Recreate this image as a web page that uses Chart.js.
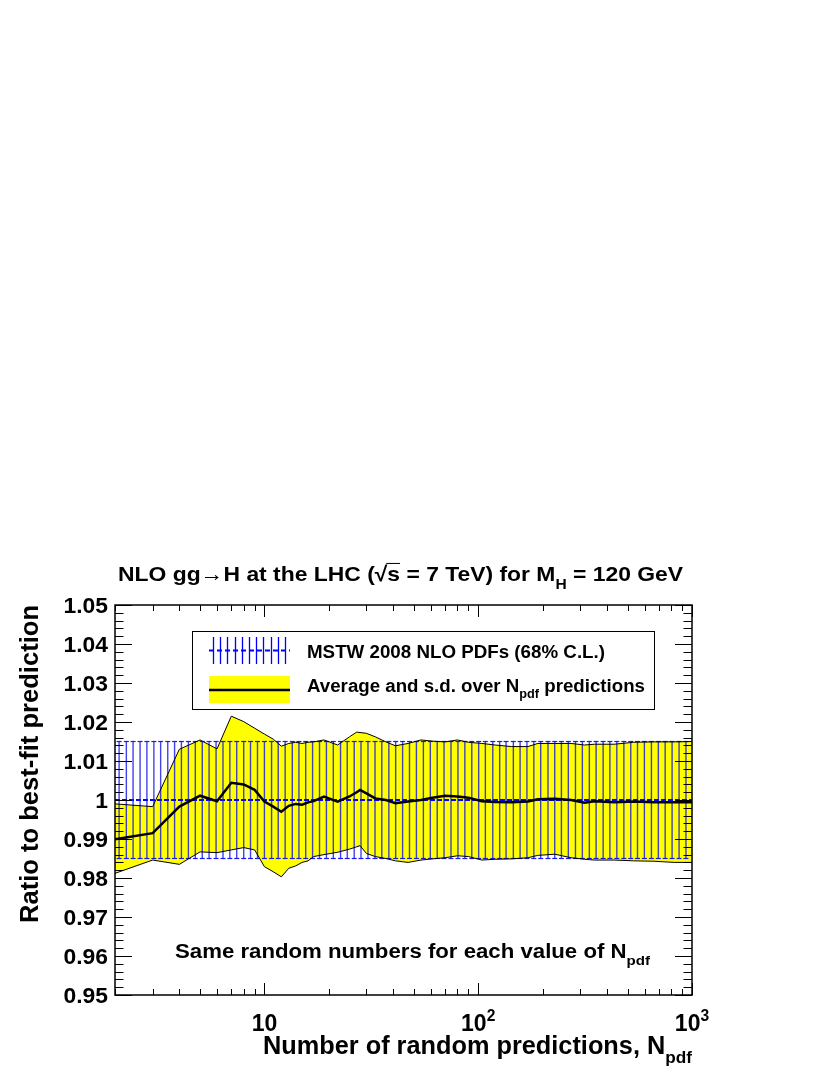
<!DOCTYPE html>
<html>
<head>
<meta charset="utf-8">
<script src="https://cdn.jsdelivr.net/npm/chart.js@4.4.0/dist/chart.umd.min.js"></script>
<style>
  html, body { margin: 0; padding: 0; background: #fff; }
  #wrap { width: 830px; height: 1075px; }
</style>
</head>
<body>
<div id="wrap"><canvas id="myChart" width="830" height="1075"></canvas></div>
<script>
const nPdf = [2, 3, 4, 5, 6, 7, 8, 9, 10, 11, 12, 13, 14, 15, 16, 17, 19, 22, 25, 27, 28, 30, 33, 37, 41,
  47, 54, 61, 70, 80, 90, 104, 120, 143, 171, 190, 228, 272, 314, 350, 433, 534, 664, 826, 1000];
const avgValues = [0.9899, 0.9915, 0.9983, 1.0011, 0.9997, 1.0044, 1.0040, 1.0026, 0.9996, 0.9983, 0.9970,
  0.9985, 0.9990, 0.9988, 0.9994, 0.9997, 1.0009, 0.9996, 1.0009, 1.0020, 1.0026, 1.0017, 1.0004, 1.0000,
  0.9992, 0.9996, 1.0000, 1.0006, 1.0011, 1.0009, 1.0006, 0.9997, 0.9995, 0.9994, 0.9996, 1.0002, 1.0003,
  1.0000, 0.9993, 0.9997, 0.9994, 0.9996, 0.9994, 0.9994, 0.9994];
const upperValues = [0.9990, 0.9983, 1.0130, 1.0154, 1.0131, 1.0215, 1.0201, 1.0184, 1.0169, 1.0156, 1.0138,
  1.0145, 1.0148, 1.0145, 1.0148, 1.0149, 1.0154, 1.0141, 1.0162, 1.0174, 1.0173, 1.0171, 1.0162, 1.0149,
  1.0139, 1.0145, 1.0154, 1.0151, 1.0149, 1.0154, 1.0148, 1.0145, 1.0141, 1.0137, 1.0137, 1.0145, 1.0145,
  1.0145, 1.0141, 1.0143, 1.0143, 1.0148, 1.0149, 1.0149, 1.0150];
const lowerValues = [0.9812, 0.9846, 0.9835, 0.9867, 0.9865, 0.9872, 0.9878, 0.9872, 0.9829, 0.9816, 0.9803,
  0.9825, 0.9831, 0.9840, 0.9844, 0.9855, 0.9860, 0.9866, 0.9874, 0.9880, 0.9883, 0.9863, 0.9855, 0.9850,
  0.9844, 0.9840, 0.9846, 0.9849, 0.9852, 0.9857, 0.9855, 0.9846, 0.9848, 0.9849, 0.9852, 0.9858, 0.9861,
  0.9852, 0.9848, 0.9846, 0.9846, 0.9844, 0.9843, 0.9840, 0.9840];

// MSTW 2008 NLO 68% C.L. error bars
const mstwX = [2.09, 2.26, 2.43, 2.62, 2.82, 3.04, 3.27, 3.53, 3.80, 4.09, 4.41, 4.75, 5.12, 5.51, 5.94,
  6.40, 6.89, 7.42, 8.00, 8.61, 9.28, 10.0, 10.8, 11.6, 12.5, 13.5, 14.5, 15.6, 16.8, 18.1, 19.5, 21.0,
  22.7, 24.4, 26.3, 28.3, 30.5, 32.9, 35.4, 38.2, 41.1, 44.3, 47.7, 51.4, 55.4, 59.7, 64.3, 69.2, 74.6,
  80.4, 86.6, 93.3, 100.5, 108, 117, 126, 135, 146, 157, 169, 182, 196, 212, 228, 245, 264, 285, 307,
  331, 356, 384, 413, 445, 480, 517, 556, 599, 646, 696, 749, 807, 870, 937];
const mstwCentral = 1.0;
const mstwLow = 0.985;
const mstwHigh = 1.015;

// axis ticks
const yTicks = [0.95, 0.96, 0.97, 0.98, 0.99, 1.0, 1.01, 1.02, 1.03, 1.04, 1.05];
const yTickLabels = ['0.95', '0.96', '0.97', '0.98', '0.99', '1', '1.01', '1.02', '1.03', '1.04', '1.05'];
const xMajorTicks = [10, 100, 1000];
const xMinorTicks = [2, 3, 4, 5, 6, 7, 8, 9, 20, 30, 40, 50, 60, 70, 80, 90, 200, 300, 400, 500, 600, 700, 800, 900];
const xTickLabels = [['10', ''], ['10', '2'], ['10', '3']];

const FONT = '"Liberation Sans", Arial, sans-serif';
function font(size) { return 'bold ' + size + 'px ' + FONT; }

function partSize(k, size) { return (k === 'sub' || k === 'sup') ? size * 0.68 : size; }

function richWidth(ctx, parts, size) {
  let w = 0;
  for (const [t, k] of parts) {
    ctx.font = font(partSize(k, size));
    w += ctx.measureText(t).width;
  }
  return w;
}

// draw text with sub/superscripts, left/center/right aligned, optionally fitted to a width
function drawRich(ctx, parts, x, y, size, opt) {
  opt = opt || {};
  const nat = richWidth(ctx, parts, size);
  const sx = opt.width ? opt.width / nat : (opt.sx || 1);
  const total = nat * sx;
  let x0 = x;
  if (opt.align === 'center') x0 = x - total / 2;
  if (opt.align === 'right') x0 = x - total;
  ctx.save();
  ctx.translate(x0, y);
  ctx.scale(sx, 1);
  ctx.fillStyle = '#000';
  ctx.textAlign = 'left';
  ctx.textBaseline = 'alphabetic';
  let cx = 0;
  for (const [t, k] of parts) {
    const s = partSize(k, size);
    ctx.font = font(s);
    const dy = k === 'sub' ? size * 0.36 : (k === 'sup' ? -size * 0.45 : 0);
    ctx.fillText(t, cx, dy);
    const w = ctx.measureText(t).width;
    if (k === 'ovl') ctx.fillRect(cx - 1, -size * 0.86, w + 1, 1);
    cx += w;
  }
  ctx.restore();
}

const decorations = {
  id: 'decorations',
  afterDraw(chart) {
    const { ctx, chartArea: a, scales: { x, y } } = chart;
    ctx.save();

    // frame
    ctx.strokeStyle = '#000';
    ctx.lineWidth = 1.5;
    ctx.strokeRect(a.left, a.top, a.right - a.left, a.bottom - a.top);

    // y ticks, both sides
    ctx.lineWidth = 1;
    ctx.beginPath();
    for (let i = 0; i <= 50; i++) {
      const py = Math.round(y.getPixelForValue(0.95 + i * 0.002)) + 0.5;
      const len = i % 5 === 0 ? 17 : 8.5;
      ctx.moveTo(a.left, py); ctx.lineTo(a.left + len, py);
      ctx.moveTo(a.right, py); ctx.lineTo(a.right - len, py);
    }
    // x ticks, both sides
    xMinorTicks.concat(xMajorTicks).forEach(v => {
      const px = Math.round(x.getPixelForValue(v)) + 0.5;
      const len = xMajorTicks.includes(v) ? 12 : 6;
      ctx.moveTo(px, a.bottom); ctx.lineTo(px, a.bottom - len);
      ctx.moveTo(px, a.top); ctx.lineTo(px, a.top + len);
    });
    ctx.stroke();

    // tick labels
    yTicks.forEach((v, i) => {
      drawRich(ctx, [[yTickLabels[i], 'n']], 108, y.getPixelForValue(v) + 8, 22, { sx: 1.04, align: 'right' });
    });
    xMajorTicks.forEach((v, i) => {
      const [base, exp] = xTickLabels[i];
      const parts = exp ? [[base, 'n'], [exp, 'sup']] : [[base, 'n']];
      drawRich(ctx, parts, x.getPixelForValue(v), 1031, 23, { sx: 1.0, align: 'center' });
    });

    // title
    drawRich(ctx, [['NLO gg\u2192H at the LHC (\u221A', 'n'], ['s', 'ovl'], [' = 7 TeV) for M', 'n'],
      ['H', 'sub'], [' = 120 GeV', 'n']], 118, 581, 21, { width: 565 });

    // axis titles
    drawRich(ctx, [['Number of random predictions, N', 'n'], ['pdf', 'sub']], 263, 1054, 25, { width: 429 });
    ctx.save();
    ctx.translate(38, 605);
    ctx.rotate(-Math.PI / 2);
    drawRich(ctx, [['Ratio to best-fit prediction', 'n']], 0, 0, 25, { width: 318, align: 'right' });
    ctx.restore();

    // annotation
    drawRich(ctx, [['Same random numbers for each value of N', 'n'], ['pdf', 'sub']], 175, 958, 20, { width: 475 });

    // legend box
    ctx.fillStyle = '#fff';
    ctx.fillRect(192, 631, 462, 78);
    ctx.strokeStyle = '#000';
    ctx.lineWidth = 1;
    ctx.strokeRect(192.5, 631.5, 462, 78);

    // legend entry 1: blue error bars
    ctx.strokeStyle = '#0000ff';
    ctx.lineWidth = 1.3;
    ctx.beginPath();
    for (let i = 0; i < 11; i++) {
      const px = Math.round(213 + i * 7.2) + 0.5;
      ctx.moveTo(px, 637); ctx.lineTo(px, 664);
    }
    ctx.stroke();
    ctx.setLineDash([5, 3]);
    ctx.lineWidth = 1.8;
    ctx.beginPath();
    ctx.moveTo(209, 650.5); ctx.lineTo(290, 650.5);
    ctx.stroke();
    ctx.setLineDash([]);
    drawRich(ctx, [['MSTW 2008 NLO PDFs (68% C.L.)', 'n']], 307, 658, 18, { width: 298 });

    // legend entry 2: yellow band with black line
    ctx.fillStyle = '#ffff00';
    ctx.fillRect(209, 676, 81, 27);
    ctx.strokeStyle = '#000';
    ctx.lineWidth = 2.5;
    ctx.beginPath();
    ctx.moveTo(209, 690); ctx.lineTo(290, 690);
    ctx.stroke();
    drawRich(ctx, [['Average and s.d. over N', 'n'], ['pdf', 'sub'], [' predictions', 'n']], 307, 692, 18, { width: 338 });

    ctx.restore();
  }
};

const toPts = (xs, ys) => xs.map((n, i) => ({ x: n, y: ys[i] }));

const barData = [];
mstwX.forEach(n => {
  barData.push({ x: n, y: mstwLow }, { x: n, y: mstwHigh }, { x: n, y: null });
});
const capData = [];
mstwX.forEach(n => {
  capData.push({ x: n, y: mstwLow }, { x: n, y: mstwHigh });
});

const ctx = document.getElementById('myChart').getContext('2d');

const myChart = new Chart(ctx, {
  type: 'line',
  data: {
    datasets: [{
      label: 'Average',
      data: toPts(nPdf, avgValues),
      borderColor: '#000',
      borderWidth: 2.5,
      pointRadius: 0,
      fill: false,
      order: 0
    }, {
      label: 'Average + s.d.',
      data: toPts(nPdf, upperValues),
      borderColor: '#000',
      borderWidth: 1,
      backgroundColor: '#ffff00',
      pointRadius: 0,
      fill: '+1',
      order: 1
    }, {
      label: 'Average - s.d.',
      data: toPts(nPdf, lowerValues),
      borderColor: '#000',
      borderWidth: 1,
      pointRadius: 0,
      fill: false,
      order: 1
    }, {
      label: 'MSTW bars',
      data: barData,
      borderColor: 'rgba(20, 20, 230, 0.8)',
      borderWidth: 1.4,
      pointRadius: 0,
      spanGaps: false,
      fill: false,
      order: 2
    }, {
      label: 'MSTW caps',
      data: capData,
      showLine: false,
      pointStyle: 'line',
      pointRadius: 2.5,
      pointBorderColor: 'rgba(0, 0, 255, 0.9)',
      pointBorderWidth: 1.2,
      fill: false,
      order: 2
    }, {
      label: 'MSTW central',
      data: [{ x: 2, y: mstwCentral }, { x: 1000, y: mstwCentral }],
      borderColor: '#0000ff',
      borderWidth: 1.8,
      borderDash: [5, 2],
      pointRadius: 0,
      fill: false,
      order: 2
    }]
  },
  options: {
    responsive: false,
    animation: false,
    devicePixelRatio: 1,
    layout: {
      padding: { left: 115, right: 138, top: 605, bottom: 80 }
    },
    scales: {
      x: { type: 'logarithmic', min: 2, max: 1000, display: false },
      y: { type: 'linear', min: 0.95, max: 1.05, display: false }
    },
    elements: { line: { tension: 0 } },
    plugins: {
      legend: { display: false },
      tooltip: { enabled: false },
      filler: { propagate: false, drawTime: 'beforeDatasetsDraw' }
    }
  },
  plugins: [decorations]
});
</script>
</body>
</html>
